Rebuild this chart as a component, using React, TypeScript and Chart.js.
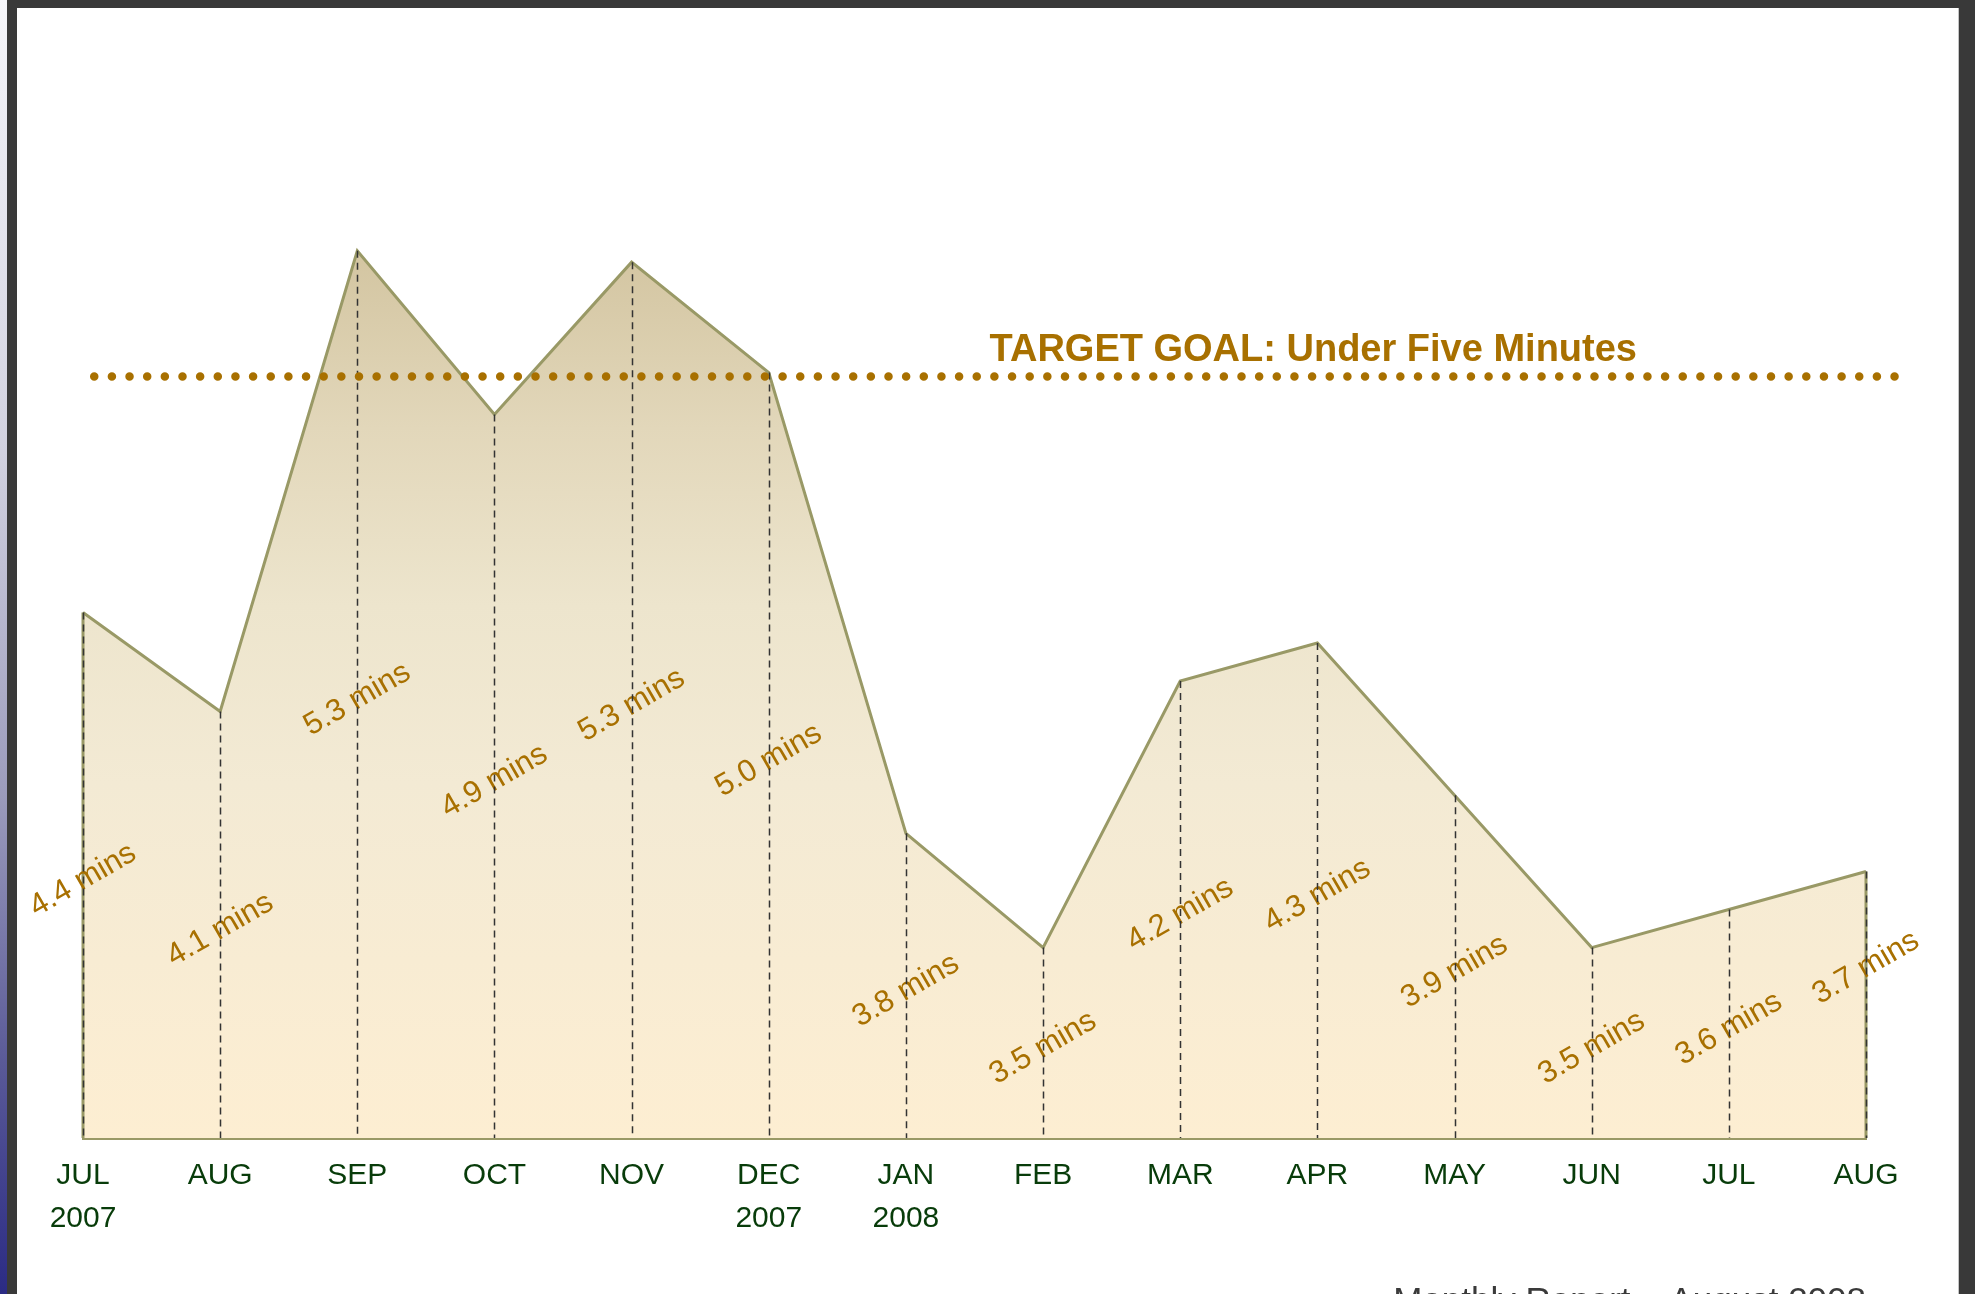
import React, { useEffect, useRef } from "react";
import { Chart, registerables } from "chart.js";

Chart.register(...registerables);

// ---------- data ----------
const monthLabels: (string | string[])[] = [
  ["JUL", "2007"], "AUG", "SEP", "OCT", "NOV", ["DEC", "2007"],
  ["JAN", "2008"], "FEB", "MAR", "APR", "MAY", "JUN", "JUL", "AUG",
];
const responseTimes = [4.38, 4.12, 5.33, 4.9, 5.3, 5.01, 3.8, 3.5, 4.2, 4.3, 3.9, 3.5, 3.6, 3.7];
const valueLabels = [
  "4.4 mins", "4.1 mins", "5.3 mins", "4.9 mins", "5.3 mins", "5.0 mins", "3.8 mins",
  "3.5 mins", "4.2 mins", "4.3 mins", "3.9 mins", "3.5 mins", "3.6 mins", "3.7 mins",
];
const targetGoal = 5.0;
const targetText = "TARGET GOAL: Under Five Minutes";
const footerText = "Monthly Report \u2013 August 2008";
const yMin = 3;
const yMax = 5.5;

// ---------- styles ----------
const FONT = '"Liberation Sans", Arial, Helvetica, sans-serif';
const OLIVE = "#999966";
const GOLD = "#a87000";
const GREEN = "#083c0a";

const overlayPlugin = {
  id: "overlay",
  afterDatasetsDraw(chart: any) {
    const { ctx, scales } = chart;
    const xs = scales.x;
    const ys = scales.y;
    const base = ys.getPixelForValue(yMin);
    const n = responseTimes.length;
    ctx.save();

    // side edges of the area
    ctx.strokeStyle = OLIVE;
    ctx.lineWidth = 3;
    [0, n - 1].forEach((i) => {
      const x = xs.getPixelForValue(i);
      ctx.beginPath();
      ctx.moveTo(x, ys.getPixelForValue(responseTimes[i]));
      ctx.lineTo(x, base);
      ctx.stroke();
    });

    // value labels
    ctx.font = `31px ${FONT}`;
    ctx.fillStyle = GOLD;
    ctx.textAlign = "center";
    ctx.textBaseline = "middle";
    responseTimes.forEach((v, i) => {
      const x = xs.getPixelForValue(i);
      const y = ys.getPixelForValue(v);
      let cy = (y + base) / 2 + 5;
      if (i === n - 1) cy -= 42;
      ctx.save();
      ctx.translate(x, cy);
      ctx.rotate(-Math.PI / 6);
      ctx.fillText(valueLabels[i], 0, 0);
      ctx.restore();
    });

    // dashed drop lines
    ctx.strokeStyle = "#333333";
    ctx.lineWidth = 1.5;
    ctx.setLineDash([7, 5]);
    responseTimes.forEach((v, i) => {
      const x = Math.round(xs.getPixelForValue(i)) + 0.5;
      ctx.beginPath();
      ctx.moveTo(x, ys.getPixelForValue(v));
      ctx.lineTo(x, base);
      ctx.stroke();
    });

    // target dotted line
    const ty = ys.getPixelForValue(targetGoal);
    ctx.setLineDash([0, 17.65]);
    ctx.lineCap = "round";
    ctx.lineWidth = 8.5;
    ctx.strokeStyle = GOLD;
    ctx.beginPath();
    ctx.moveTo(xs.getPixelForValue(0.082), ty);
    ctx.lineTo(xs.getPixelForValue(13.25), ty);
    ctx.stroke();

    // target text
    ctx.setLineDash([]);
    ctx.font = `bold 38px ${FONT}`;
    ctx.fillStyle = GOLD;
    ctx.textAlign = "center";
    ctx.textBaseline = "alphabetic";
    ctx.fillText(targetText, xs.getPixelForValue(8.97), ty - 15);

    // footer
    ctx.font = `35px ${FONT}`;
    ctx.fillStyle = "#3a3a3a";
    ctx.textAlign = "right";
    ctx.fillText(footerText, xs.getPixelForValue(n - 1), chart.height + 18);

    ctx.restore();
  },
};

export default function App() {
  const canvasRef = useRef<HTMLCanvasElement | null>(null);

  useEffect(() => {
    const canvas = canvasRef.current;
    if (!canvas) return;
    const chart = new Chart(canvas, {
      type: "line",
      data: {
        labels: monthLabels as any,
        datasets: [
          {
            data: responseTimes,
            borderColor: OLIVE,
            borderWidth: 3,
            pointRadius: 0,
            tension: 0,
            fill: "start",
            backgroundColor: (c: any) => {
              const ch = c.chart;
              const area = ch.chartArea;
              if (!area) return "#f3ead4";
              const top = ch.scales.y.getPixelForValue(Math.max(...responseTimes));
              const g = ch.ctx.createLinearGradient(0, top, 0, area.bottom);
              g.addColorStop(0, "#d3c5a1");
              g.addColorStop(0.2, "#e2d7ba");
              g.addColorStop(0.4, "#ede5cd");
              g.addColorStop(0.6, "#f3ead4");
              g.addColorStop(0.8, "#f8ecd3");
              g.addColorStop(1, "#fdeed2");
              return g;
            },
          },
        ],
      },
      options: {
        responsive: false,
        animation: false,
        devicePixelRatio: 1,
        layout: { padding: { left: 83, right: 109, top: 186, bottom: 38 } },
        plugins: {
          legend: { display: false },
          tooltip: { enabled: false },
          title: { display: false },
        },
        scales: {
          x: {
            type: "category",
            offset: false,
            grid: { display: false, drawTicks: false },
            border: { display: true, color: OLIVE, width: 3 },
            ticks: {
              color: GREEN,
              font: { family: FONT, size: 30, lineHeight: 1.45 },
              padding: 15.5,
              maxRotation: 0,
              minRotation: 0,
              autoSkip: false,
            },
          },
          y: { display: false, min: yMin, max: yMax },
        },
      },
      plugins: [overlayPlugin],
    });
    return () => chart.destroy();
  }, []);

  return (
    <div style={{ position: "fixed", left: 0, top: 0, width: 1975, height: 1294, overflow: "hidden", background: "#fff" }}>
      <div
        style={{
          position: "absolute", left: 0, top: 0, width: 7, height: 1294,
          background: "linear-gradient(to bottom, #f6f6fa 0%, #d2d2e0 35%, #9a9abb 62%, #5a5a98 82%, #2b2b84 100%)",
        }}
      />
      <div style={{ position: "absolute", left: 7, top: 0, width: 1968, height: 1294, background: "#393939" }} />
      <div
        style={{
          position: "absolute", left: 17, top: 8, width: 1941, height: 1294,
          background: "#ffffff", borderRight: "1px solid #c4c4c4",
        }}
      />
      <canvas
        ref={canvasRef}
        width={1975}
        height={1294}
        style={{ position: "absolute", left: 0, top: 0, width: 1975, height: 1294, display: "block" }}
      />
    </div>
  );
}
